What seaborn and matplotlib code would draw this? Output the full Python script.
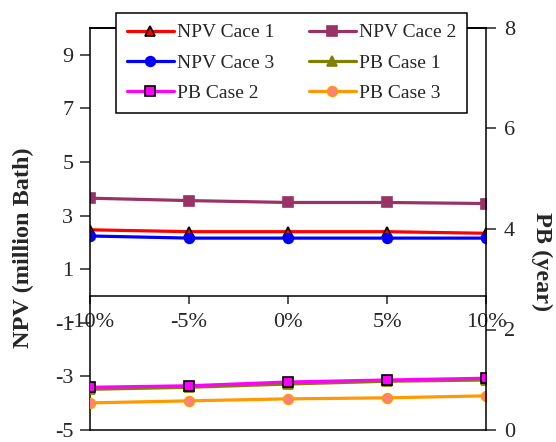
import matplotlib
matplotlib.use('Agg')
import matplotlib.pyplot as plt
import seaborn as sns
import pandas as pd

# data
changes = ['-10%', '-5%', '0%', '5%', '10%']
npv_case1 = [2.47, 2.40, 2.40, 2.40, 2.34]
npv_case2 = [3.65, 3.56, 3.49, 3.49, 3.45]
npv_case3 = [2.24, 2.16, 2.16, 2.16, 2.16]
pb_case1 = [0.81, 0.85, 0.915, 0.97, 0.995]
pb_case2 = [0.85, 0.88, 0.955, 0.995, 1.03]
pb_case3 = [0.54, 0.58, 0.62, 0.64, 0.68]

npv_ticks = [-5, -3, -1, 1, 3, 5, 7, 9]
pb_ticks = [0, 2, 4, 6, 8]

sns.set_style('ticks')
plt.rcParams['font.family'] = ['Liberation Serif', 'DejaVu Serif']
plt.rcParams['axes.linewidth'] = 1.1
plt.rcParams['axes.unicode_minus'] = False

f = plt.figure(figsize=(5.56, 4.42), dpi=100)
ax = f.add_axes([90 / 556, 12 / 442, 396 / 556, 402 / 442])
ax2 = ax.twinx()

npv_series = [
    ('NPV Cace 1', npv_case1, '#FF0000', '^', '#FF0000', 'black'),
    ('NPV Cace 2', npv_case2, '#993366', 's', '#993366', '#993366'),
    ('NPV Cace 3', npv_case3, '#0000FF', 'o', '#0000FF', '#0000FF'),
]
pb_series = [
    ('PB Case 1', pb_case1, '#808000', '^', '#808000', '#808000'),
    ('PB Case 2', pb_case2, '#FF00FF', 's', '#FF00FF', 'black'),
    ('PB Case 3', pb_case3, '#FF9900', 'o', '#FF8080', '#FF9900'),
]

handles = {}
for axis, series in [(ax, npv_series), (ax2, pb_series)]:
    for name, vals, col, mk, mfc, mec in series:
        df = pd.DataFrame({'change': changes, 'value': vals})
        sns.lineplot(data=df, x='change', y='value', ax=axis, sort=False,
                     color=col, lw=2.3, marker=mk, markersize=7,
                     markerfacecolor=mfc, markeredgecolor=mec,
                     markeredgewidth=1.2, label=name, legend=False)
        handles[name] = axis.lines[-1]

ax.set_xlim(0, 4)
ax.set_ylim(-5, 10)
ax.set_yticks(npv_ticks)
ax2.set_ylim(0, 8)
ax2.set_yticks(pb_ticks)

# category axis crosses at zero, plot area keeps its box
ax.spines['bottom'].set_position(('data', 0))
ax.spines['bottom'].set_color('black')
ax.spines['left'].set_color('black')
ax.spines['top'].set_visible(False)
ax.spines['right'].set_visible(False)
ax2.spines['left'].set_visible(False)
for s in ['top', 'right', 'bottom']:
    ax2.spines[s].set_visible(True)
    ax2.spines[s].set_color('black')
    ax2.spines[s].set_linewidth(1.1)
# plot area border on top
ax2.axhline(8, color='black', lw=1.3, clip_on=False, zorder=5)

ax.tick_params(axis='y', direction='out', length=7, width=1.1, pad=5,
               labelsize=16, left=True)
ax.tick_params(axis='x', direction='out', length=6, width=1.1, pad=6,
               labelsize=16, bottom=True)
ax2.tick_params(axis='y', direction='out', length=7, width=1.1, pad=6,
                labelsize=16, right=True)

ax.set_xlabel('')
ax.set_ylabel('NPV (million Bath)', fontsize=17.5, fontweight='bold', va='center')
ax.yaxis.set_label_coords(-0.169, 0.453)
ax2.set_ylabel('PB (year)', fontsize=17.5, fontweight='bold', rotation=270,
               va='center')
ax2.yaxis.set_label_coords(1.141, 0.418)

order = ['NPV Cace 1', 'NPV Cace 3', 'PB Case 2',
         'NPV Cace 2', 'PB Case 1', 'PB Case 3']
leg = ax2.legend([handles[k] for k in order], order, ncol=2,
                 loc='upper center', bbox_to_anchor=(291.5 / 556, 1 - 13 / 442),
                 bbox_transform=f.transFigure, fontsize=14, fancybox=False,
                 framealpha=1, edgecolor='black', handlelength=2.4,
                 handletextpad=0.15, columnspacing=1.8, labelspacing=0.65,
                 borderpad=0.55, borderaxespad=0)
leg.get_frame().set_linewidth(1.1)
leg.set_zorder(10)

f.savefig('out.png', dpi=100)
plt.close('all')
